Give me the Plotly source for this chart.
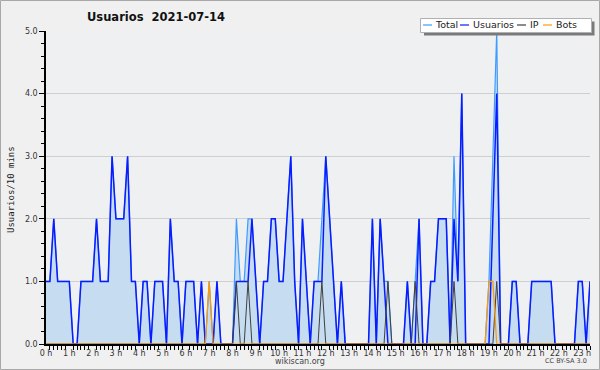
import plotly.graph_objects as go
import pandas as pd

# ---- data (10-minute intervals from 00:00 to 23:20) ----
usuarios = [1,1,2,1,1,1,1,0,0,1, 1,1,1,2,1,1,1,3,2,2, 2,3,1,1,0,1,1,0,1,1,
            1,0,2,1,1,0,1,1,1,0, 1,0,0,0,1,0,0,0,0,1, 1,1,1,2,1,0,1,1,2,2,
            1,1,2,3,1,0,2,1,0,1, 1,1,3,2,1,0,1,0,0,0, 0,0,0,0,2,0,2,1,0,0,
            0,0,0,1,0,0,2,0,0,1, 1,2,2,2,0,2,1,4,0,0, 0,0,0,0,0,2,4,0,0,0,
            1,1,0,0,0,1,1,1,1,1, 1,0,0,0,0,0,0,1,1,0, 1]
total = [1,1,2,1,1,1,1,0,0,1, 1,1,1,2,1,1,1,3,2,2, 2,3,1,1,0,1,1,0,1,1,
         1,0,2,1,1,0,1,1,1,0, 1,0,1,0,1,0,0,0,0,2, 1,1,2,2,1,0,1,1,2,2,
         1,1,2,3,1,0,2,1,0,1, 1,2,3,2,1,0,1,0,0,0, 0,0,0,0,2,0,2,1,1,0,
         0,0,0,1,0,1,2,0,0,1, 1,2,2,2,0,3,1,4,0,0, 0,0,0,0,1,3,5,0,0,0,
         1,1,0,0,0,1,1,1,1,1, 1,0,0,0,0,0,0,1,1,0, 1]
ip = [0,0,0,0,0,0,0,0,0,0, 0,0,0,0,0,0,0,0,0,0, 0,0,0,0,0,0,0,0,0,0,
      0,0,0,0,0,0,0,0,0,0, 0,0,0,0,0,0,0,0,0,1, 0,0,1,0,0,0,0,0,0,0,
      0,0,0,0,0,0,0,0,0,0, 0,1,0,0,0,0,0,0,0,0, 0,0,0,0,0,0,0,0,1,0,
      0,0,0,0,0,1,0,0,0,0, 0,0,0,0,0,1,0,0,0,0, 0,0,0,0,0,0,1,0,0,0,
      0,0,0,0,0,0,0,0,0,0, 0,0,0,0,0,0,0,0,0,0, 0]
bots = [0,0,0,0,0,0,0,0,0,0, 0,0,0,0,0,0,0,0,0,0, 0,0,0,0,0,0,0,0,0,0,
        0,0,0,0,0,0,0,0,0,0, 0,0,1,0,0,0,0,0,0,0, 0,0,0,0,0,0,0,0,0,0,
        0,0,0,0,0,0,0,0,0,0, 0,0,0,0,0,0,0,0,0,0, 0,0,0,0,0,0,0,0,0,0,
        0,0,0,0,0,0,0,0,0,0, 0,0,0,0,0,0,0,0,0,0, 0,0,0,0,1,1,0,0,0,0,
        0,0,0,0,0,0,0,0,0,0, 0,0,0,0,0,0,0,0,0,0, 0]
times = pd.date_range("2021-07-14 00:00", periods=len(usuarios), freq="10min")

series_names = ["Total", "Usuarios", "IP", "Bots"]
colors = {"Total": "#3f9cff", "Usuarios": "#0a1cff", "IP": "#404040", "Bots": "#ff9900"}

W, H = 600, 370
L, R, T, B = 46, 10, 31, 26
PW, PH = W - L - R, H - T - B


def px(x):
    return (x - L) / PW


def py(y):
    return (H - B - y) / PH


fig = go.Figure()
fig.add_trace(go.Scatter(x=times, y=total, mode="lines", name="Total",
                         line=dict(color=colors["Total"], width=1.2),
                         fill="tozeroy", fillcolor="#c6dcf1"))
fig.add_trace(go.Scatter(x=times, y=usuarios, mode="lines", name="Usuarios",
                         line=dict(color=colors["Usuarios"], width=1.5)))
fig.add_trace(go.Scatter(x=times, y=ip, mode="lines", name="IP",
                         line=dict(color=colors["IP"], width=1)))
fig.add_trace(go.Scatter(x=times, y=bots, mode="lines", name="Bots",
                         line=dict(color=colors["Bots"], width=1.2)))

fig.update_layout(
    width=W, height=H,
    margin=dict(l=L, r=R, t=T, b=B),
    paper_bgcolor="#f0f0f0", plot_bgcolor="#eef0f2",
    showlegend=False,
    font=dict(family="DejaVu Sans", size=8, color="#333333"),
)
fig.update_xaxes(
    type="date", range=[times[0], times[-1]],
    tick0="2021-07-14 00:00", dtick=3600000, tickformat="%-H h",
    ticks="", showgrid=False, zeroline=False,
    showline=True, linecolor="black", linewidth=2,
    tickfont=dict(size=8, color="#333333"),
    minor=dict(dtick=600000, tick0="2021-07-14 00:00", ticks="outside",
               ticklen=4, tickcolor="black", tickwidth=1, showgrid=False),
)
fig.update_yaxes(
    range=[0, 5], dtick=1, tick0=0, tickformat=".1f",
    ticks="outside", ticklen=5, tickcolor="black",
    showgrid=True, gridcolor="#cfcfcf", gridwidth=1, zeroline=False,
    showline=True, linecolor="black", linewidth=1.5,
    tickfont=dict(size=8, color="#333333"),
    minor=dict(dtick=0.2, ticks="outside", ticklen=3, tickcolor="black",
               showgrid=False),
)

shapes = []
annotations = []
# outer frame
shapes.append(dict(type="rect", xref="paper", yref="paper",
                   x0=px(0.5), x1=px(W - 0.5), y0=py(0.5), y1=py(H - 0.5),
                   line=dict(color="#a8a8a8", width=1), fillcolor="rgba(0,0,0,0)", layer="above"))
# legend box with shadow
shapes.append(dict(type="rect", xref="paper", yref="paper",
                   x0=px(424), x1=px(594.5), y0=py(21.5), y1=py(35.5),
                   line=dict(width=0), fillcolor="#7a7a7a", layer="above"))
shapes.append(dict(type="rect", xref="paper", yref="paper",
                   x0=px(420.5), x1=px(591.5), y0=py(18.5), y1=py(32.5),
                   line=dict(color="#b0b0b0", width=1), fillcolor="#ffffff", layer="above"))
legend_items = [("Total", 423, 433), ("Usuarios", 460, 471), ("IP", 517, 528), ("Bots", 543, 554)]
for name, lx, tx in legend_items:
    shapes.append(dict(type="line", xref="paper", yref="paper",
                       x0=px(lx), x1=px(lx + 9), y0=py(25), y1=py(25),
                       line=dict(color=colors[name], width=1.2), layer="above"))
    annotations.append(dict(text=name, xref="paper", yref="paper",
                            x=px(tx), y=py(25), xanchor="left", yanchor="middle",
                            showarrow=False, font=dict(family="DejaVu Sans", size=9.5, color="#222222")))

annotations.append(dict(text="<b>Usuarios\u00a0\u00a02021-07-14</b>", xref="paper", yref="paper",
                        x=px(85), y=py(17), xanchor="left", yanchor="middle", showarrow=False,
                        font=dict(family="DejaVu Sans", size=11.5, color="#111111")))
annotations.append(dict(text="Usuarios/10 mins", xref="paper", yref="paper",
                        x=px(11), y=py(190), xanchor="center", yanchor="middle", textangle=-90,
                        showarrow=False, font=dict(family="DejaVu Sans Mono", size=9, color="#222222")))
annotations.append(dict(text="wikiscan.org", xref="paper", yref="paper",
                        x=px(300), y=py(361), xanchor="center", yanchor="middle",
                        showarrow=False, font=dict(family="DejaVu Sans", size=8, color="#444444")))
annotations.append(dict(text="CC BY-SA 3.0", xref="paper", yref="paper",
                        x=px(589), y=py(361), xanchor="right", yanchor="middle",
                        showarrow=False, font=dict(family="DejaVu Sans", size=6.5, color="#444444")))

fig.update_layout(shapes=shapes, annotations=annotations)
fig.write_html("out.html", config={"displayModeBar": False},
               post_script="document.body.style.margin='0px';")
